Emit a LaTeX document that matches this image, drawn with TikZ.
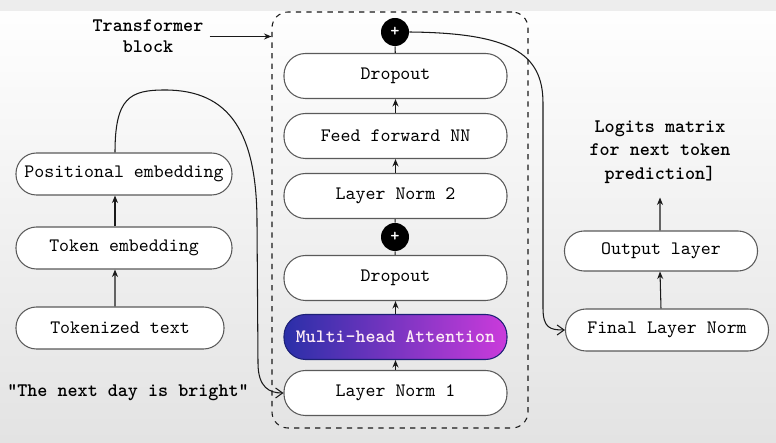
\documentclass[tikz,border=0pt]{standalone}
\usepackage{fontspec}
\usetikzlibrary{arrows.meta}
\definecolor{edge}{HTML}{5A5A5A}
\definecolor{ink}{HTML}{1A1A1A}
\definecolor{attnL}{HTML}{2A2FA8}
\definecolor{attnR}{HTML}{CB3BDB}
\begin{document}
\begin{tikzpicture}[
  layer/.style={draw=edge,line width=0.6pt,rounded corners=0.43cm,minimum width=4.46cm,minimum height=0.9cm,fill=white,text=black},
  sidebox/.style={layer,minimum width=4.32cm,minimum height=0.84cm,rounded corners=0.41cm},
  addop/.style={circle,fill=black,minimum size=0.56cm,inner sep=0pt,text=white,font=\ttfamily\bfseries\fontsize{10}{10}\selectfont},
  caption/.style={align=center,text=black,font=\ttfamily\bfseries\fontsize{10.9}{12.6}\selectfont},
  flow/.style={-{Stealth[length=1.5mm,width=1.2mm]},line width=0.6pt,ink},
  loop/.style={-{Straight Barb[length=1.4mm,width=2mm]},line width=0.6pt,ink},
  every node/.append style={font=\ttfamily\fontsize{10.8}{12}\selectfont}
]
  % background
  \shade[top color=white,bottom color=black!11] (0,0) rectangle (15.52,8.86);
  \fill[black!7] (0,8.64) rectangle (15.52,8.86);
  \useasboundingbox (0,0) rectangle (15.52,8.86);

  % transformer block frame
  \node[draw=ink,dashed,line width=0.6pt,rounded corners=0.32cm,minimum width=5.12cm,minimum height=8.32cm] (block) at (8.0,4.46) {};

  % input side
  \node[sidebox] (pos) at (2.48,5.38) {Positional embedding};
  \node[sidebox] (tok) at (2.48,3.90) {Token embedding};
  \node[sidebox,minimum width=4.16cm] (tokd) at (2.40,2.30) {Tokenized text};
  \node[caption] (sent) at (2.56,1.00) {“The next day is bright”};
  \node[caption,font=\ttfamily\bfseries\fontsize{10.9}{11.9}\selectfont] (tlabel) at (2.96,8.13) {Transformer\\block};

  % inside the block
  \node[addop] (plus1) at (7.90,8.22) {+};
  \node[layer] (drop1) at (7.91,7.34) {Dropout};
  \node[layer] (ff) at (7.91,6.14) {Feed forward NN};
  \node[layer] (ln2) at (7.91,4.94) {Layer Norm 2};
  \node[addop] (plus2) at (7.90,4.12) {+};
  \node[layer] (drop2) at (7.91,3.30) {Dropout};
  \node[layer,draw=attnL!70!black,left color=attnL,right color=attnR,text=white!92!magenta,font=\ttfamily\bfseries\fontsize{10.8}{12}\selectfont] (mha) at (7.91,2.12) {Multi-head Attention};
  \node[layer] (ln1) at (7.91,1.00) {Layer Norm 1};

  % output side
  \node[layer,minimum width=4.06cm,minimum height=0.84cm,rounded corners=0.41cm] (fln) at (13.34,2.26) {Final Layer Norm};
  \node[layer,minimum width=3.86cm,minimum height=0.8cm,rounded corners=0.39cm] (out) at (13.22,3.84) {Output layer};
  \node[caption,font=\ttfamily\bfseries\fontsize{10.9}{13.3}\selectfont] (logits) at (13.20,5.82) {Logits matrix\\for next token\\prediction]};

  \draw[flow] ([xshift=-1mm]tokd.north) -- ([xshift=-1.8mm]tok.south);
  \draw[flow] ([xshift=-1.8mm]tok.north) -- ([xshift=-1.8mm]pos.south);
  \draw[loop] ([xshift=-1.8mm]pos.north) .. controls +(0,1.1) and (2.6,7.06) .. (3.3,7.06)
    .. controls (4.6,7.06) and (5.14,6.2) .. (5.14,4.4) -- (5.16,1.6)
    .. controls (5.16,1.1) and (5.4,1.0) .. (ln1.west);
  \draw[flow] (tlabel.east) -- (tlabel.east -| block.west);

  \draw[flow] (ln1) -- (mha);
  \draw[flow] (mha) -- (drop2);
  \draw[line width=0.6pt,ink] (drop2) -- (plus2);
  \draw[line width=0.6pt,ink] (plus2) -- (ln2);
  \draw[flow] (ln2) -- (ff);
  \draw[flow] (ff) -- (drop1);
  \draw[line width=0.6pt,ink] (drop1) -- (plus1);

  \draw[loop] (plus1.east) .. controls (10.2,8.2) and (10.86,7.8) .. (10.86,6.8)
    -- (10.86,2.7) .. controls (10.86,2.3) and (11.0,2.26) .. (fln.west);
  \draw[flow] ([xshift=-1.2mm]fln.north) -- ([xshift=-0.2mm]out.south);
  \draw[flow] ([xshift=-0.2mm]out.north) -- ([yshift=-1.6mm]logits.south);
\end{tikzpicture}
\end{document}
